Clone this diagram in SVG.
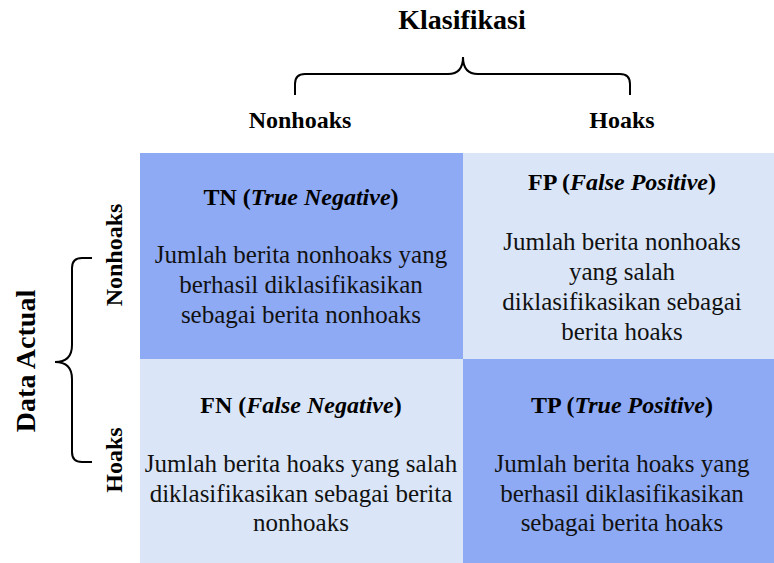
<svg xmlns="http://www.w3.org/2000/svg" width="774" height="563" viewBox="0 0 774 563">
<style>
text{font-family:"Liberation Serif","Times New Roman",serif;fill:#000;}
.i{font-style:italic;}
.t{font-size:28px;font-weight:bold;}
.l{font-size:24px;font-weight:bold;}
.h{font-size:24px;font-weight:bold;text-anchor:middle;}
.d{font-size:25px;text-anchor:middle;fill:#111;}
.dark{fill:#8eaaf4;}
.light{fill:#dae6f8;}
.brace{fill:none;stroke:#000;stroke-width:2;}
</style>
<rect width="774" height="563" fill="#fff"/>
<g id="title">
<text class="t" x="462" y="29" text-anchor="middle">Klasifikasi</text>
<text class="l" x="300" y="128" text-anchor="middle">Nonhoaks</text>
<text class="l" x="622" y="128" text-anchor="middle">Hoaks</text>
<text class="t" transform="translate(35,361) rotate(-90)" text-anchor="middle">Data Actual</text>
<text class="l" transform="translate(122,255) rotate(-90)" text-anchor="middle">Nonhoaks</text>
<text class="l" transform="translate(122,460) rotate(-90)" text-anchor="middle">Hoaks</text>
</g>
<g id="braces">
<path class="brace" d="M295,95 V84 Q295,74 305,74 H448 Q463,74 463,57 Q463,74 478,74 H620 Q630,74 630,84 V95"/>
<path class="brace" d="M92,258 H82 Q72,258 72,268 V345 Q72,362 55,362 Q72,362 72,379 V452 Q72,462 82,462 H92"/>
</g>
<g id="tn">
<rect class="dark" x="140" y="153" width="323" height="206"/>
<text class="h" x="301" y="205">TN (<tspan class="i">True Negative</tspan>)</text>
<text class="d" x="301" y="263">Jumlah berita nonhoaks yang</text>
<text class="d" x="301" y="293">berhasil diklasifikasikan</text>
<text class="d" x="301" y="323">sebagai berita nonhoaks</text>
</g>
<g id="fp">
<rect class="light" x="463" y="153" width="311" height="206"/>
<text class="h" x="622" y="190">FP (<tspan class="i">False Positive</tspan>)</text>
<text class="d" x="622" y="250">Jumlah berita nonhoaks</text>
<text class="d" x="622" y="280">yang salah</text>
<text class="d" x="622" y="310">diklasifikasikan sebagai</text>
<text class="d" x="622" y="340">berita hoaks</text>
</g>
<g id="fn">
<rect class="light" x="140" y="359" width="323" height="204"/>
<text class="h" x="301" y="413">FN (<tspan class="i">False Negative</tspan>)</text>
<text class="d" x="301" y="472">Jumlah berita hoaks yang salah</text>
<text class="d" x="301" y="502">diklasifikasikan sebagai berita</text>
<text class="d" x="301" y="531">nonhoaks</text>
</g>
<g id="tp">
<rect class="dark" x="463" y="359" width="311" height="204"/>
<text class="h" x="622" y="413">TP (<tspan class="i">True Positive</tspan>)</text>
<text class="d" x="622" y="472">Jumlah berita hoaks yang</text>
<text class="d" x="622" y="502">berhasil diklasifikasikan</text>
<text class="d" x="622" y="531">sebagai berita hoaks</text>
</g>
</svg>
